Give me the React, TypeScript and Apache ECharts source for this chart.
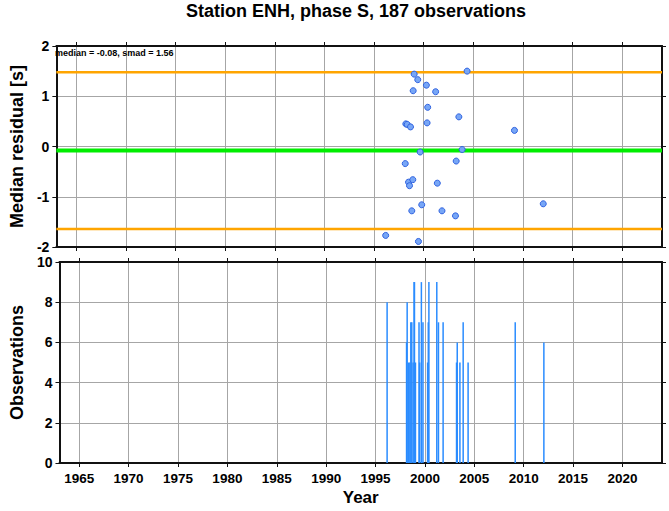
import React, { useEffect, useRef } from 'react';
import * as echarts from 'echarts';

// Event epochs (decimal year), median residuals [s], and observation counts
const years = [1996.17, 1998.14, 1998.2, 1998.34, 1998.47, 1998.57, 1998.67, 1998.8, 1998.9, 1998.94, 1999.04, 1999.4, 1999.47, 1999.64, 1999.8, 2000.27, 2000.34, 2000.4, 2001.2, 2001.37, 2001.84, 2003.2, 2003.27, 2003.54, 2003.87, 2004.37, 2009.14, 2012.04];
const residuals = [-1.77, -0.34, 0.45, 0.44, -0.71, -0.78, 0.39, -1.28, -0.66, 1.11, 1.44, 1.33, -1.89, -0.11, -1.16, 1.22, 0.47, 0.78, 1.09, -0.73, -1.28, -1.38, -0.29, 0.59, -0.06, 1.5, 0.32, -1.14];
const counts = [8, 6, 8, 5, 5, 7, 7, 5, 9, 9, 5, 7, 5, 9, 7, 5, 7, 9, 9, 7, 7, 5, 6, 5, 7, 5, 7, 6];

const xTickLabels = [1965, 1970, 1975, 1980, 1985, 1990, 1995, 2000, 2005, 2010, 2015, 2020];
const xRange = [1963, 2024];
const median = -0.08;
const smad = 1.56;
const station = 'ENH';
const phase = 'S';

const F = "'Liberation Sans', Arial, Helvetica, sans-serif";

export default function App() {
  const ref = useRef<HTMLDivElement>(null);
  useEffect(() => {
    const chart = echarts.init(ref.current!, null, { renderer: 'svg' });
    const total = counts.reduce((a, b) => a + b, 0);
    const upper = +(median + smad).toFixed(2);
    const lower = +(median - smad).toFixed(2);

    const frameLine = { show: true, onZero: false, lineStyle: { color: '#111', width: 2 } };
    const tick = (vals?: number[]) => ({
      show: true, inside: false, length: 4,
      ...(vals ? { customValues: vals } : {}),
      lineStyle: { color: '#111', width: 1 },
    });
    const grid = { show: true, lineStyle: { color: '#a6a6a6', width: 1 } };
    const labelStyle = { color: '#000', fontFamily: F, fontWeight: 'bold' as const };
    const nameStyle = { color: '#000', fontFamily: F, fontWeight: 'bold' as const, fontSize: 18 };

    const xAxisFor = (gridIndex: number, position: string, showLabels: boolean, showGrid: boolean, name = '') => ({
      type: 'value', gridIndex, position, min: xRange[0], max: xRange[1],
      axisLine: frameLine,
      axisTick: tick(xTickLabels),
      axisLabel: showLabels
        ? { show: true, customValues: xTickLabels, margin: 8, ...labelStyle, fontSize: 13.5, formatter: (v: number) => String(v) }
        : { show: false, customValues: xTickLabels },
      splitLine: showGrid ? grid : { show: false },
      name, nameLocation: 'middle', nameGap: 26, nameTextStyle: { ...nameStyle, fontSize: 17 },
    });
    const yAxisFor = (gridIndex: number, position: string, min: number, max: number, interval: number, showLabels: boolean, name = '') => ({
      type: 'value', gridIndex, position, min, max, interval,
      axisLine: frameLine,
      axisTick: tick(),
      axisLabel: showLabels ? { show: true, margin: 7, ...labelStyle, fontSize: 14, lineHeight: 14 } : { show: false },
      splitLine: showLabels ? grid : { show: false },
      name, nameLocation: 'middle', nameGap: 29, nameTextStyle: nameStyle,
    });

    const hLine = (v: number, color: string, width: number) => ({
      type: 'line', xAxisIndex: 0, yAxisIndex: 0, z: 1, silent: true, symbol: 'none',
      data: [[xRange[0], v], [xRange[1], v]],
      lineStyle: { color, width },
    });

    chart.setOption({
      animation: false,
      backgroundColor: '#fff',
      grid: [
        { left: 52, right: 7, top: 46, height: 201 },
        { left: 52, right: 7, top: 262, height: 201 },
      ],
      xAxis: [
        xAxisFor(0, 'bottom', false, true),
        xAxisFor(0, 'top', false, false),
        xAxisFor(1, 'bottom', true, true, 'Year'),
        xAxisFor(1, 'top', false, false),
      ],
      yAxis: [
        yAxisFor(0, 'left', -2, 2, 1, true, 'Median residual [s]'),
        yAxisFor(0, 'right', -2, 2, 1, false),
        yAxisFor(1, 'left', 0, 10, 2, true, 'Observations'),
        yAxisFor(1, 'right', 0, 10, 2, false),
      ],
      graphic: [
        {
          type: 'text', x: 356, y: 2,
          style: {
            text: `Station ${station}, phase ${phase}, ${total} observations`,
            fontFamily: F, fontWeight: 'bold', fontSize: 18, fill: '#000',
            align: 'center', verticalAlign: 'top',
          },
        },
        {
          type: 'text', x: 55, y: 48, z: 10,
          style: {
            text: `median = ${median.toFixed(2)}, smad = ${smad.toFixed(2)}`,
            fontFamily: F, fontWeight: 'bold', fontSize: 9, fill: '#000',
            align: 'left', verticalAlign: 'top',
          },
        },
      ],
      series: [
        hLine(upper, '#ffa500', 2.5),
        hLine(lower, '#ffa500', 2.5),
        hLine(median, '#00ee00', 4),
        {
          type: 'scatter', xAxisIndex: 0, yAxisIndex: 0, z: 3,
          symbol: 'circle', symbolSize: 6,
          data: years.map((y, i) => [y, residuals[i]]),
          itemStyle: { color: '#77a6f6', borderColor: '#2f62e0', borderWidth: 1, opacity: 1 },
        },
        {
          type: 'bar', xAxisIndex: 2, yAxisIndex: 2, z: 3,
          barWidth: 1.5,
          data: years.map((y, i) => [y, counts[i]]),
          itemStyle: { color: '#2a8cff' },
        },
      ],
    });
    return () => chart.dispose();
  }, []);
  return <div ref={ref} style={{ position: 'absolute', left: 0, top: 0, width: 669, height: 511 }} />;
}
